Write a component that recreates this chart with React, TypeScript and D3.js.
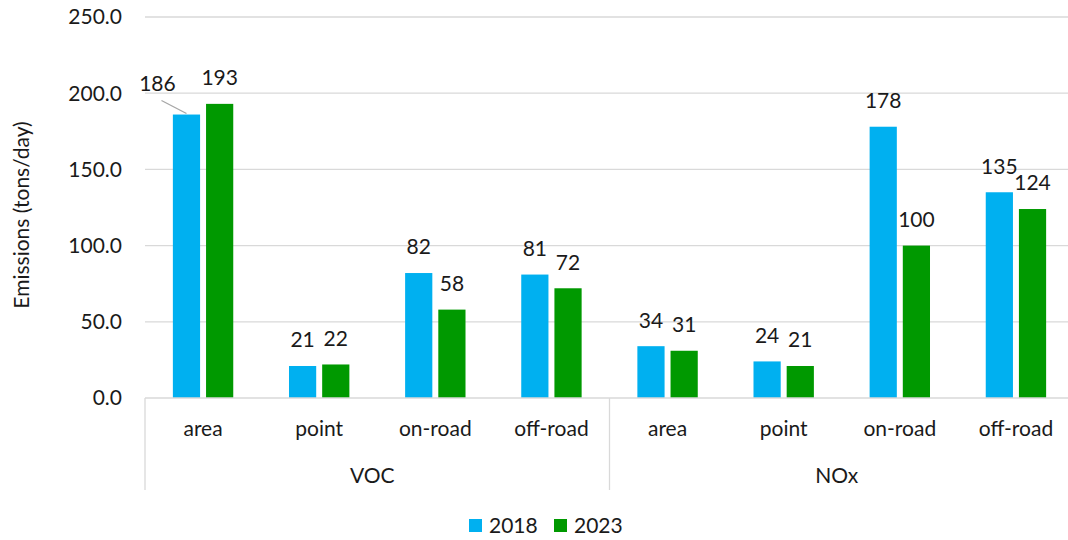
import * as d3 from 'd3';
import { useEffect, useRef } from 'react';

const groups = ['VOC', 'NOx'];
const sources = ['area', 'point', 'on-road', 'off-road'];
const years = ['2018', '2023'];
const voc2018 = [186, 21, 82, 81];
const voc2023 = [193, 22, 58, 72];
const nox2018 = [34, 24, 178, 135];
const nox2023 = [31, 21, 100, 124];
const yTicks = [0, 50, 100, 150, 200, 250];

const colors: Record<string, string> = { '2018': '#00B0F0', '2023': '#009900' };
const font = 'Lato, "Open Sans", sans-serif';
const fs = 21;

const App = () => {
    const ref = useRef<SVGSVGElement>(null);

    useEffect(() => {
        const svg = d3.select(ref.current);
        svg.selectAll('*').remove();

        const width = 1068;
        const left = 145;
        const right = 1074;
        const bottom = 398;
        const top = 17;

        // build rows from the arrays
        const rows: { key: string; group: string; source: string; values: Record<string, number> }[] = [];
        groups.forEach((g, gi) => {
            sources.forEach((s, si) => {
                const a = gi === 0 ? voc2018[si] : nox2018[si];
                const b = gi === 0 ? voc2023[si] : nox2023[si];
                rows.push({ key: g + '-' + s, group: g, source: s, values: { '2018': a, '2023': b } });
            });
        });

        const x0 = d3.scaleBand().domain(rows.map(d => d.key)).range([left, right]);
        const bw = x0.bandwidth();
        const x1 = d3.scaleBand().domain(years).range([bw * 0.24, bw * 0.76]).paddingInner(0.18);
        const y = d3.scaleLinear().domain([0, 250]).range([bottom, top]);

        // gridlines
        svg.append('g')
            .selectAll('line')
            .data(yTicks.filter(t => t > 0))
            .enter().append('line')
            .attr('x1', left).attr('x2', width)
            .attr('y1', d => y(d)).attr('y2', d => y(d))
            .attr('stroke', '#d9d9d9').attr('stroke-width', 1.3);

        // y tick labels
        svg.append('g')
            .selectAll('text')
            .data(yTicks)
            .enter().append('text')
            .attr('x', 122)
            .attr('y', d => y(d))
            .attr('dy', '0.35em')
            .attr('text-anchor', 'end')
            .attr('font-family', font).attr('font-size', fs).attr('fill', '#1a1a1a')
            .text(d => d.toFixed(1));

        // y title
        svg.append('text')
            .attr('transform', `translate(29, 215) rotate(-90)`)
            .attr('text-anchor', 'middle')
            .attr('font-family', font).attr('font-size', fs).attr('fill', '#1a1a1a')
            .text('Emissions (tons/day)');

        // bars
        const flat = rows.flatMap(r => years.map(yr => ({ row: r, year: yr, value: r.values[yr] })));
        svg.append('g')
            .selectAll('rect')
            .data(flat)
            .enter().append('rect')
            .attr('x', d => (x0(d.row.key) as number) + (x1(d.year) as number))
            .attr('y', d => y(d.value))
            .attr('width', x1.bandwidth())
            .attr('height', d => bottom - y(d.value))
            .attr('fill', d => colors[d.year]);

        const isMoved = (d: { row: { key: string }; year: string }) => d.row.key === 'VOC-area' && d.year === '2018';

        // data labels
        svg.append('g')
            .selectAll('text')
            .data(flat)
            .enter().append('text')
            .attr('x', d => {
                const cx = (x0(d.row.key) as number) + (x1(d.year) as number) + x1.bandwidth() / 2;
                return isMoved(d) ? cx - 29 : cx;
            })
            .attr('y', d => (isMoved(d) ? y(d.value) - 31 : y(d.value) - 26))
            .attr('dy', '0.35em')
            .attr('text-anchor', 'middle')
            .attr('font-family', font).attr('font-size', fs).attr('fill', '#1a1a1a')
            .text(d => d.value);

        // leader line for the moved label
        const moved = flat.find(isMoved);
        if (moved) {
            const cx = (x0(moved.row.key) as number) + (x1(moved.year) as number) + x1.bandwidth() / 2;
            svg.append('line')
                .attr('x1', cx - 25).attr('y1', y(moved.value) - 14)
                .attr('x2', cx).attr('y2', y(moved.value) - 1)
                .attr('stroke', '#a6a6a6').attr('stroke-width', 1.3);
        }

        // x axis line
        svg.append('line')
            .attr('x1', left).attr('x2', width)
            .attr('y1', bottom).attr('y2', bottom)
            .attr('stroke', '#d9d9d9').attr('stroke-width', 1.3);

        // group separators
        const seps = [left, x0(groups[1] + '-' + sources[0]) as number, right];
        svg.append('g')
            .selectAll('line')
            .data(seps)
            .enter().append('line')
            .attr('x1', d => d).attr('x2', d => d)
            .attr('y1', bottom).attr('y2', 490)
            .attr('stroke', '#d9d9d9').attr('stroke-width', 1.3);

        // category labels
        svg.append('g')
            .selectAll('text')
            .data(rows)
            .enter().append('text')
            .attr('x', d => (x0(d.key) as number) + bw / 2)
            .attr('y', 429)
            .attr('dy', '0.35em')
            .attr('text-anchor', 'middle')
            .attr('font-family', font).attr('font-size', fs).attr('fill', '#1a1a1a')
            .text(d => d.source);

        // group labels
        svg.append('g')
            .selectAll('text')
            .data(groups)
            .enter().append('text')
            .attr('x', (d, i) => (seps[i] + seps[i + 1]) / 2 - 5)
            .attr('y', 476)
            .attr('dy', '0.35em')
            .attr('text-anchor', 'middle')
            .attr('font-family', font).attr('font-size', fs).attr('fill', '#1a1a1a')
            .text(d => d);

        // legend
        const legend = svg.append('g')
            .selectAll('g')
            .data(years)
            .enter().append('g')
            .attr('transform', (d, i) => `translate(${469 + i * 85}, 519)`);
        legend.append('rect').attr('width', 13).attr('height', 13).attr('fill', d => colors[d]);
        legend.append('text')
            .attr('x', 20).attr('y', 7).attr('dy', '0.35em')
            .attr('font-family', font).attr('font-size', fs).attr('fill', '#1a1a1a')
            .text(d => d);
    }, []);

    return (
        <svg ref={ref} width="1068" height="540"
            style={{ position: 'absolute', left: 0, top: 0, background: '#fff' }}></svg>
    );
};

export default App;
